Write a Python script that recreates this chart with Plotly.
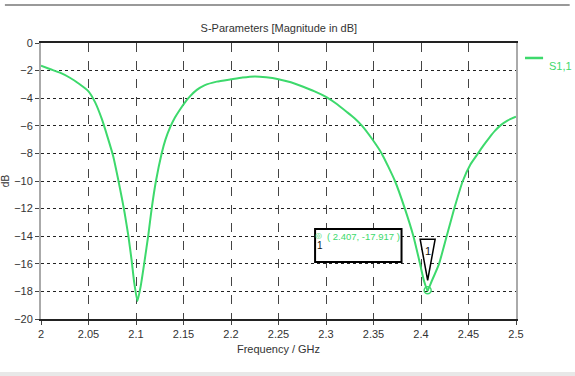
import plotly.graph_objects as go

# ---- data ----
freq_ghz = [2.000, 2.010, 2.020, 2.030, 2.040, 2.050, 2.057, 2.064, 2.070, 2.076,
            2.081, 2.085, 2.088, 2.092, 2.0955, 2.098, 2.1015, 2.105, 2.109, 2.113,
            2.1165, 2.121, 2.127, 2.131, 2.136, 2.141, 2.146, 2.151, 2.157, 2.164,
            2.172, 2.185, 2.200, 2.212, 2.225, 2.237, 2.250, 2.263, 2.276, 2.288,
            2.300, 2.311, 2.322, 2.330, 2.338, 2.348, 2.3586, 2.3726, 2.383, 2.392,
            2.399, 2.403, 2.407, 2.411, 2.419, 2.427, 2.435, 2.444, 2.452, 2.460,
            2.466, 2.472, 2.478, 2.484, 2.491, 2.500]
s11_db = [-1.65, -1.9, -2.15, -2.5, -2.95, -3.5, -4.3, -5.5, -6.8, -8.2,
          -9.8, -11.2, -12.3, -14.0, -15.8, -17.3, -18.7, -17.6, -15.8, -13.9,
          -12.0, -10.0, -8.0, -7.0, -6.1, -5.4, -4.85, -4.35, -3.85, -3.4,
          -3.07, -2.8, -2.63, -2.5, -2.42, -2.48, -2.62, -2.85, -3.17, -3.5,
          -3.9, -4.4, -5.0, -5.45, -6.0, -6.9, -8.0, -10.0, -12.0, -14.0,
          -16.0, -17.2, -17.917, -17.3, -16.0, -14.0, -12.0, -10.0, -8.8, -8.0,
          -7.4, -6.85, -6.35, -5.95, -5.62, -5.34]
marker_f = [2.407]
marker_db = [-17.917]
x_ticks = [2.0, 2.05, 2.1, 2.15, 2.2, 2.25, 2.3, 2.35, 2.4, 2.45, 2.5]
x_tick_text = ["2", "2.05", "2.1", "2.15", "2.2", "2.25", "2.3", "2.35", "2.4", "2.45", "2.5"]
y_ticks = list(range(0, -21, -2))
series_name = "S1,1"

GREEN = "#3dd96c"
FONT = "Liberation Sans, Arial, sans-serif"

fig = go.Figure()
fig.add_trace(go.Scatter(x=freq_ghz, y=s11_db, mode="lines", name=series_name,
                         line=dict(color=GREEN, width=2, shape="spline", smoothing=0.5),
                         showlegend=False, hoverinfo="x+y"))
fig.add_trace(go.Scatter(x=marker_f, y=marker_db, mode="markers", showlegend=False,
                         marker=dict(symbol="circle-open-dot", size=7, color=GREEN,
                                     line=dict(width=1.5, color=GREEN))))

# marker triangle above the point
mf, md = marker_f[0], marker_db[0]
tri_half_w = 0.0079
tip = md + 10 / 13.8
top = md + 51 / 13.8
fig.add_shape(type="path", xref="x", yref="y",
              path=f"M {mf - tri_half_w},{top} L {mf + tri_half_w},{top} L {mf},{tip} Z",
              line=dict(color="black", width=1.5), fillcolor="white")
fig.add_annotation(x=mf, y=top - 0.85, xref="x", yref="y", text="1", showarrow=False,
                   font=dict(family=FONT, size=11, color="#111"))

# marker readout box
fig.add_shape(type="rect", xref="paper", yref="paper", x0=0.577, x1=0.759, y0=0.2065, y1=0.326,
              line=dict(color="black", width=2), fillcolor="white")
fig.add_annotation(x=0.597, y=0.272, xref="paper", yref="paper", xanchor="left",
                   text=f"( {mf:.3f}, {md:.3f} )", showarrow=False,
                   font=dict(family=FONT, size=9.5, color=GREEN))
fig.add_annotation(x=0.585, y=0.279, xref="paper", yref="paper", text="◎", showarrow=False,
                   font=dict(family="DejaVu Sans", size=8, color=GREEN))
fig.add_annotation(x=0.588, y=0.238, xref="paper", yref="paper", text="1", showarrow=False,
                   font=dict(family=FONT, size=10, color="#111"))

# manual legend
fig.add_shape(type="line", xref="paper", yref="paper", x0=1.019, x1=1.057, y0=0.9457, y1=0.9457,
              line=dict(color=GREEN, width=2.5))
fig.add_annotation(x=1.066, y=0.9457, xref="paper", yref="paper", xanchor="left",
                   text=series_name, showarrow=False,
                   font=dict(family=FONT, size=11, color=GREEN))

# decorative page lines
fig.add_shape(type="line", xref="paper", yref="paper", x0=-0.076, x1=1.113, y0=1.138, y1=1.138,
              line=dict(color="#777", width=1.5))
fig.add_shape(type="rect", xref="paper", yref="paper", x0=-0.09, x1=1.13, y0=-0.192, y1=-0.22,
              line=dict(width=0), fillcolor="#e8e8e8")

fig.update_layout(
    width=575, height=376,
    margin=dict(l=41, r=59, t=43, b=57, autoexpand=False),
    paper_bgcolor="white", plot_bgcolor="white",
    font=dict(family=FONT, size=11, color="#333"),
    title=dict(text="S-Parameters [Magnitude in dB]", x=0.485, xanchor="center",
               y=0.925, yanchor="middle", font=dict(family=FONT, size=11, color="#333")),
    xaxis=dict(range=[2, 2.5], tickvals=x_ticks, ticktext=x_tick_text, automargin=False,
               showgrid=True, gridcolor="#444", griddash="dash", gridwidth=1,
               showline=True, linecolor="#222", linewidth=1.5, mirror=True,
               ticks="outside", ticklen=4, tickcolor="#444",
               zeroline=False,
               title=dict(text="Frequency / GHz", standoff=6, font=dict(size=11, color="#333"))),
    yaxis=dict(range=[-20, 0], tickvals=y_ticks, automargin=False,
               showgrid=True, gridcolor="#222", griddash="dot", gridwidth=1,
               showline=True, linecolor="#aaa", linewidth=2, mirror=True,
               ticks="outside", ticklen=4, tickcolor="#444",
               zeroline=False,
               title=dict(text="dB", standoff=4, font=dict(size=10, color="#333"))),
)

fig.write_html("out.html", config={"displayModeBar": False},
               post_script="document.body.style.margin='0';")
